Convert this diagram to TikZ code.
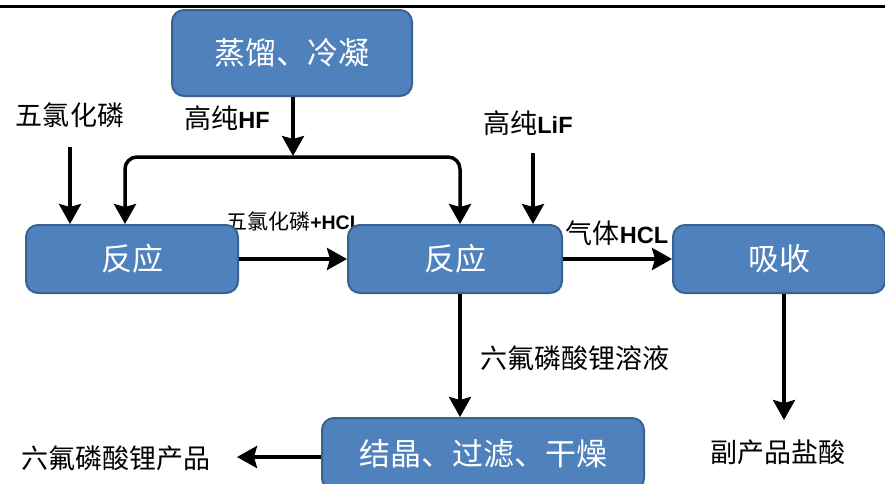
\documentclass[tikz,border=0pt]{standalone}
\usepackage{fontspec}
\setmainfont{Liberation Sans}
\newfontfamily\cjk{Noto Sans CJK SC}
\usetikzlibrary{arrows.meta,calc}
\definecolor{boxfill}{HTML}{4F81BD}
\definecolor{boxline}{HTML}{3A6191}
\newcommand\zh[1]{{\cjk #1}}
\begin{document}
\begin{tikzpicture}[x=1pt,y=-1pt,
  procbox/.style={draw=boxline, line width=2pt, fill=boxfill, rounded corners=12pt,
    text=white, font=\cjk\fontsize{31}{31}\selectfont, inner sep=0pt},
  lbl/.style={font=\fontsize{23.5}{23.5}\selectfont, inner sep=0pt, text=black},
  slbl/.style={font=\fontsize{19.5}{19.5}\selectfont, inner sep=0pt, text=black},
  tip/.tip={Stealth[length=20pt,width=22pt,inset=3pt]},
  flow/.style={line width=3.5pt, -tip},
  flowboth/.style={line width=3.5pt, tip-tip, rounded corners=12pt}
]
\clip (0,0) rectangle (885,483);
\fill[white] (0,0) rectangle (885,483);
\coordinate (tl) at (0,6);
\coordinate (tr) at (885,6);
\draw[line width=3pt] (tl) -- (tr);

% labels
\node[lbl] (l1) at (70,115) {{\fontsize{27}{27}\selectfont\zh{五氯化磷}}};
\node[lbl] (l2) at (227,118) {{\fontsize{27}{27}\selectfont\zh{高纯}}\textbf{HF}};
\node[lbl] (l3) at (528,123) {{\fontsize{27}{27}\selectfont\zh{高纯}}\textbf{LiF}};
\node[slbl] (l4) at (294,222) {{\fontsize{21}{21}\selectfont\zh{五氯化磷}}\textbf{+HCL}};
\node[lbl] (l5) at (617,233) {{\fontsize{27}{27}\selectfont\zh{气体}}\textbf{HCL}};
\node[lbl] (l6) at (575,358) {{\fontsize{27}{27}\selectfont\zh{六氟磷酸锂溶液}}};
\node[lbl] (l7) at (778,452) {{\fontsize{27}{27}\selectfont\zh{副产品盐酸}}};
\node[lbl] (l8) at (116,458) {{\fontsize{27}{27}\selectfont\zh{六氟磷酸锂产品}}};

% boxes
\node[procbox, minimum width=240pt, minimum height=86pt] (zl) at (292,53) {蒸馏、冷凝};
\node[procbox, minimum width=212pt, minimum height=68pt] (r1) at (132,259) {反应};
\node[procbox, minimum width=214pt, minimum height=68pt] (r2) at (455,259) {反应};
\node[procbox, minimum width=212pt, minimum height=68pt] (xs) at (779,259) {吸收};
\node[procbox, minimum width=322pt, minimum height=72pt] (jj) at (483,454) {结晶、过滤、干燥};

% connectors
\coordinate (a1s) at (70,147);
\draw[flow] (a1s) -- (a1s |- r1.north);
\coordinate (hfend) at (293,156);
\draw[flow] (zl.south -| hfend) -- (hfend);
\coordinate (lpL) at (125,157);
\coordinate (lpR) at (460,157);
\draw[flowboth] (r1.north -| lpL) -- (lpL) -- (lpR) -- (r2.north -| lpR);
\coordinate (lif) at (533,153);
\draw[flow] (lif) -- (lif |- r2.north);
\draw[flow] (r1.east) -- (r2.west);
\draw[flow] (r2.east) -- (xs.west);
\coordinate (vx) at (460,0);
\draw[flow] (r2.south -| vx) -- (jj.north -| vx);
\coordinate (xd) at (784,420);
\draw[flow] (xs.south -| xd) -- (xd);
\coordinate (pe) at (237,457);
\draw[flow] (jj.west |- pe) -- (pe);
\end{tikzpicture}
\end{document}
